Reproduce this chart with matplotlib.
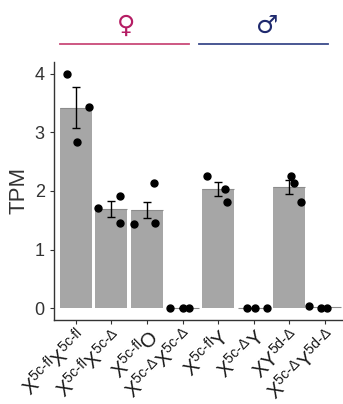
import numpy as np
import matplotlib
matplotlib.use('Agg')
import matplotlib.pyplot as plt

plt.rcParams.update({
    'font.family': ['Liberation Sans', 'DejaVu Sans'],
    'mathtext.fontset': 'custom',
    'mathtext.rm': 'Liberation Sans',
    'mathtext.it': 'Liberation Sans',
    'axes.linewidth': 1.0,
})

genotypes = [r'$\mathrm{X^{5c\text{-}fl}X^{5c\text{-}fl}}$',
             r'$\mathrm{X^{5c\text{-}fl}X^{5c\text{-}\Delta}}$',
             r'$\mathrm{X^{5c\text{-}fl}O}$',
             r'$\mathrm{X^{5c\text{-}\Delta}X^{5c\text{-}\Delta}}$',
             r'$\mathrm{X^{5c\text{-}fl}Y}$',
             r'$\mathrm{X^{5c\text{-}\Delta}Y}$',
             r'$\mathrm{XY^{5d\text{-}\Delta}}$',
             r'$\mathrm{X^{5c\text{-}\Delta}Y^{5d\text{-}\Delta}}$']
tpm_mean = [3.42, 1.69, 1.67, 0.0, 2.03, 0.0, 2.06, 0.013]
tpm_err = [0.35, 0.13, 0.14, 0.0, 0.12, 0.0, 0.12, 0.0]
rep_x_offset = [[-0.26, 0.36, 0.02], [-0.38, 0.23, 0.23], [-0.36, 0.19, 0.21],
                [-0.36, 0.0, 0.17], [-0.32, 0.18, 0.26], [-0.2, 0.03, 0.36],
                [0.06, 0.14, 0.34], [-0.45, -0.1, 0.07]]
rep_tpm = [[4.0, 3.43, 2.83], [1.70, 1.91, 1.46], [1.43, 2.13, 1.46],
           [0.0, 0.0, 0.0], [2.25, 2.03, 1.81], [0.0, 0.0, 0.0],
           [2.25, 2.13, 1.81], [0.04, 0.0, 0.0]]

x = np.arange(1, len(genotypes) + 1)
bar_color = '#a6a6a6'

fig = plt.figure(figsize=(3.43, 4.04), dpi=100)
ax = fig.add_axes([0.157, 0.208, 0.84, 0.639])

ax.bar(x, tpm_mean, width=0.9, color=bar_color, zorder=1)
ax.hlines(tpm_mean, x - 0.45, x + 0.45, color='#8c8c8c', linewidth=0.8, zorder=1)
ax.errorbar(x, tpm_mean, yerr=tpm_err, fmt='none', ecolor='black',
            elinewidth=1.0, capsize=3, capthick=1.0, zorder=2)
for xi, offs, vals in zip(x, rep_x_offset, rep_tpm):
    ax.plot(xi + np.array(offs), vals, 'o', color='black', markersize=5, zorder=3)

ax.set_xlim(0.38, 8.48)
ax.set_ylim(-0.2, 4.2)
ax.set_yticks([0, 1, 2, 3, 4])
ax.set_xticks(x)
ax.set_xticklabels(genotypes, rotation=45, ha='right', va='top',
                   rotation_mode='anchor', fontsize=14.5)
ax.tick_params(axis='y', labelsize=13, length=3, color='#333333', labelcolor='#333333')
ax.tick_params(axis='x', length=3, color='#333333', labelcolor='#1a1a1a', pad=1)
ax.set_ylabel('TPM', fontsize=16, color='#333333')
for s in ['top', 'right']:
    ax.spines[s].set_visible(False)
for s in ['left', 'bottom']:
    ax.spines[s].set_color('#333333')

# sex headers
ax.plot([0.55, 4.18], [4.5, 4.5], color='#c94a78', linewidth=1.3, clip_on=False)
ax.plot([4.46, 8.08], [4.5, 4.5], color='#3a4a8a', linewidth=1.3, clip_on=False)
ax.text(2.42, 4.6, '\u2640', ha='center', va='bottom', fontsize=18,
        fontweight='bold', color='#b51d64', family='DejaVu Sans')
ax.text(6.38, 4.6, '\u2642', ha='center', va='bottom', fontsize=18,
        fontweight='bold', color='#1f2a6e', family='DejaVu Sans')

plt.savefig('out.png', dpi=100)
